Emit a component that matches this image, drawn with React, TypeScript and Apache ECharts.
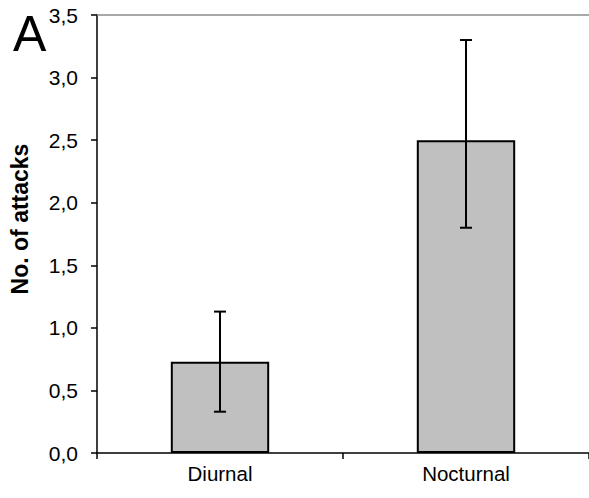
import React, { useEffect, useRef } from "react";
import * as echarts from "echarts";

// Mean number of attacks per activity period, with error bar bounds
const categories = ["Diurnal", "Nocturnal"];
const meanAttacks = [0.73, 2.5];
const errorLow = [0.33, 1.8];
const errorHigh = [1.13, 3.3];
const yTicks = { min: 0, max: 3.5, interval: 0.5 };

const FONT = "Liberation Sans, Arial, Helvetica, sans-serif";

export default function App() {
  const ref = useRef<HTMLDivElement>(null);

  useEffect(() => {
    if (!ref.current) return;
    const chart = echarts.init(ref.current, null, { renderer: "svg" });

    const errorData = categories.map((_, i) => [i, errorLow[i], errorHigh[i]]);

    chart.setOption({
      animation: false,
      backgroundColor: "#ffffff",
      grid: { left: 92, right: 0, top: 15, bottom: 45, containLabel: false },
      xAxis: [
        {
          type: "category",
          data: categories,
          boundaryGap: true,
          axisLine: { show: true, lineStyle: { color: "#000", width: 1.5 } },
          axisTick: { show: true, length: 6, lineStyle: { color: "#000", width: 1.5 } },
          axisLabel: { color: "#000", fontSize: 20.5, fontFamily: FONT, margin: 10 },
          splitLine: { show: false },
        },
        {
          type: "category",
          data: categories,
          position: "top",
          axisLine: { show: true, lineStyle: { color: "#8c8c8c", width: 1.5 } },
          axisTick: { show: false },
          axisLabel: { show: false },
          splitLine: { show: false },
        },
      ],
      yAxis: {
        type: "value",
        min: yTicks.min,
        max: yTicks.max,
        interval: yTicks.interval,
        name: "No. of attacks",
        nameLocation: "middle",
        nameGap: 66,
        nameTextStyle: {
          color: "#000",
          fontSize: 23,
          fontWeight: "bold",
          fontFamily: FONT,
          padding: [0, 0, 0, 30],
        },
        axisLine: { show: true, lineStyle: { color: "#000", width: 1.5 } },
        axisTick: { show: true, length: 6, lineStyle: { color: "#000", width: 1.5 } },
        axisLabel: {
          color: "#000",
          fontSize: 21,
          fontFamily: FONT,
          margin: 19,
          formatter: (v: number) => v.toFixed(1).replace(".", ","),
        },
        splitLine: { show: false },
      },
      graphic: [
        {
          type: "text",
          left: 13,
          top: 9,
          style: { text: "A", fontSize: 50, fontFamily: FONT, fill: "#000" },
        },
      ],
      series: [
        {
          type: "bar",
          data: meanAttacks,
          barWidth: "40%",
          itemStyle: { color: "#c0c0c0", borderColor: "#000", borderWidth: 2 },
        },
        {
          type: "custom",
          data: errorData,
          z: 10,
          renderItem: (params: any, api: any) => {
            const x = api.value(0);
            const lo = api.coord([x, api.value(1)]);
            const hi = api.coord([x, api.value(2)]);
            const cap = 6;
            const style = { stroke: "#000", lineWidth: 2 };
            return {
              type: "group",
              children: [
                { type: "line", shape: { x1: lo[0], y1: lo[1], x2: hi[0], y2: hi[1] }, style },
                { type: "line", shape: { x1: hi[0] - cap, y1: hi[1], x2: hi[0] + cap, y2: hi[1] }, style },
                { type: "line", shape: { x1: lo[0] - cap, y1: lo[1], x2: lo[0] + cap, y2: lo[1] }, style },
              ],
            };
          },
        },
      ],
    });

    return () => chart.dispose();
  }, []);

  return (
    <div
      ref={ref}
      style={{ position: "absolute", left: 0, top: 0, width: 589, height: 498 }}
    />
  );
}
